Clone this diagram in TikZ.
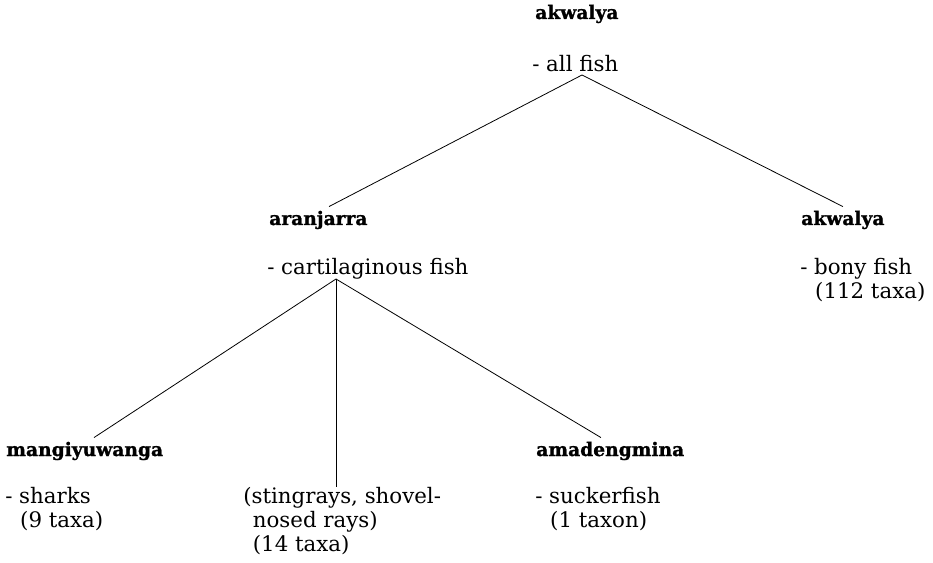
\documentclass[tikz,border=0pt]{standalone}
\usepackage{fontspec}
\setmainfont{DejaVu Serif}
\newfontfamily\heavyfamily[FakeBold=1.2]{DejaVu Serif}
\newcommand{\glossfont}{\fontsize{16}{18}\selectfont}
\newcommand{\namefont}{\heavyfamily\fontsize{14}{18}\selectfont\bfseries}
\begin{document}
\begin{tikzpicture}[x=0.75pt, y=-0.75pt, font=\glossfont,
    taxon/.style={font=\namefont, anchor=base west, inner sep=3pt},
    gloss/.style={anchor=north west, align=left, inner sep=0pt},
    branch/.style={line width=0.6pt}]
  \useasboundingbox (0,0) rectangle (933,563);
  % --- top level ---
  \node[taxon] (akwalyaAll) at (531,19) {akwalya};
  \node[gloss] (allfish) at (532,55) {- all fish};
  \coordinate (forkTop) at (582,75);
  % --- second level ---
  \node[taxon] (aranjarra) at (265,225) {aranjarra};
  \node[gloss] (cartilage) at (267,258) {- cartilaginous fish};
  \node[taxon] (akwalyaBony) at (797,225) {akwalya};
  \node[gloss] (bony) at (800,258) {- bony fish\\\hspace*{0.7em}(112 taxa)};
  \coordinate (forkMid) at (336,279);
  % --- third level ---
  \node[taxon] (mangiyuwanga) at (2,456) {mangiyuwanga};
  \node[gloss] (sharks) at (5,487) {- sharks\\\hspace*{0.7em}(9 taxa)};
  \node[gloss] (rays) at (243,487) {(stingrays, shovel-\\\hspace*{0.45em}nosed rays)\\\hspace*{0.45em}(14 taxa)};
  \node[taxon] (amadengmina) at (532,456) {amadengmina};
  \node[gloss] (sucker) at (535,487) {- suckerfish\\\hspace*{0.7em}(1 taxon)};
  % --- branches ---
  \draw[branch] (forkTop) -- ([xshift=8pt]aranjarra.north);
  \draw[branch] (forkTop) -- (akwalyaBony.north);
  \draw[branch] (forkMid) -- ([xshift=7pt]mangiyuwanga.north);
  \draw[branch] (forkMid) -- (forkMid |- rays.north);
  \draw[branch] (forkMid) -- ([xshift=-7pt]amadengmina.north);
\end{tikzpicture}
\end{document}
